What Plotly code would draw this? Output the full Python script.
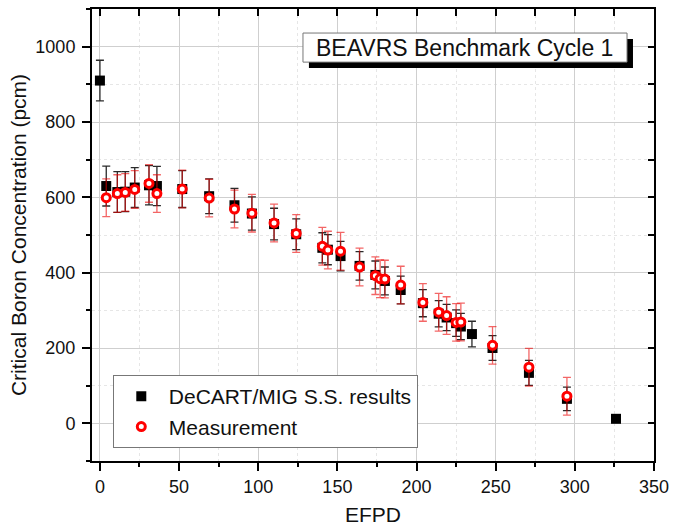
import plotly.graph_objects as go

# DeCART/MIG S.S. results
calc_efpd = [0, 4, 11, 16, 22, 31, 36, 52, 69, 85, 96, 110, 124, 140.5, 144, 152,
             164, 174, 180, 190, 204, 214, 219, 225, 228, 235, 248, 271, 295, 326]
calc_cbc = [910, 630, 614, 615, 626, 632, 630, 622, 603, 579, 557, 529, 502, 466, 461, 444,
            418, 394, 378, 354, 319, 291, 281, 266, 257, 237, 200, 134, 65, 12]
calc_err = [54, 53, 54, 53, 53, 52, 52, 49, 46, 45, 44, 42, 41, 40, 40, 39,
            38, 37, 37, 37, 36, 35, 35, 35, 35, 34, 33, 33, 31, 0]

# Measurement
meas_efpd = [4, 11, 16, 22, 31, 36, 52, 69, 85, 96, 110, 124, 140.5, 144, 152,
             164, 174, 177, 180, 190, 204, 214, 219, 225, 228, 248, 271, 295]
meas_cbc = [599, 610, 613, 621, 637, 610, 622, 598, 569, 558, 532, 504, 470, 460, 457,
            415, 392, 384, 383, 367, 321, 295, 286, 268, 269, 207, 149, 72]
meas_err = [50] * len(meas_cbc)

x_range = [-5, 350]
y_range = [-100, 1100]
title_text = "BEAVRS Benchmark Cycle 1"

FONT = "Liberation Sans, Arial, sans-serif"

fig = go.Figure()
fig.add_trace(go.Scatter(
    x=calc_efpd, y=calc_cbc, mode="markers", name="DeCART/MIG S.S. results",
    marker=dict(symbol="square", size=10, color="black"),
    error_y=dict(type="data", array=calc_err, color="#2a2a2a", thickness=1.3, width=4),
))
fig.add_trace(go.Scatter(
    x=meas_efpd, y=meas_cbc, mode="markers", name="Measurement",
    marker=dict(symbol="circle", size=8, color="white", line=dict(color="#ff0000", width=3)),
    error_y=dict(type="data", array=meas_err, color="rgba(235,0,0,0.6)", thickness=1.3, width=4),
))
# helper trace for mirrored top/right axes with inward ticks
fig.add_trace(go.Scatter(x=[None], y=[None], xaxis="x2", yaxis="y2",
                         showlegend=False, hoverinfo="skip"))

grid_major = "#cfcfcf"
grid_minor = "#e6e6e6"

fig.update_layout(
    width=673, height=532,
    margin=dict(l=92, r=19, t=9, b=71, autoexpand=False),
    paper_bgcolor="white", plot_bgcolor="white",
    font=dict(family=FONT, color="#111111", size=18),
    xaxis=dict(
        range=x_range, dtick=50, tick0=0, automargin=False,
        showline=True, linecolor="black", linewidth=2,
        ticks="outside", ticklen=8, tickwidth=2, tickcolor="black",
        showgrid=True, gridcolor=grid_major, gridwidth=1.3,
        minor=dict(dtick=25, tick0=0, ticks="outside", ticklen=4, tickwidth=1.5, tickcolor="black",
                   showgrid=True, gridcolor=grid_minor, griddash="dot", gridwidth=1),
        zeroline=False,
        tickfont=dict(size=18),
        title=dict(text="EFPD", font=dict(size=21), standoff=12),
    ),
    yaxis=dict(
        range=y_range, dtick=200, tick0=0, automargin=False,
        showline=True, linecolor="black", linewidth=2,
        ticks="outside", ticklen=8, tickwidth=2, tickcolor="black",
        showgrid=True, gridcolor=grid_major, gridwidth=1.3,
        minor=dict(dtick=100, tick0=0, ticks="outside", ticklen=4, tickwidth=1.5, tickcolor="black",
                   showgrid=True, gridcolor=grid_minor, griddash="dot", gridwidth=1),
        zeroline=False,
        tickfont=dict(size=18),
        ticklabelstandoff=3,
        title=dict(text="Critical Boron Concentration (pcm)", font=dict(size=21), standoff=3),
    ),
    xaxis2=dict(
        range=x_range, overlaying="x", side="top", anchor="y2", automargin=False,
        dtick=25, tick0=0, ticks="inside", ticklen=7, tickwidth=2, tickcolor="black",
        showline=True, linecolor="black", linewidth=2,
        showticklabels=False, showgrid=False, zeroline=False,
    ),
    yaxis2=dict(
        range=y_range, overlaying="y", side="right", anchor="x2", automargin=False,
        dtick=100, tick0=0, ticks="inside", ticklen=6, tickwidth=2, tickcolor="black",
        showline=True, linecolor="black", linewidth=2,
        showticklabels=False, showgrid=False, zeroline=False,
    ),
    legend=dict(
        x=0.037, y=0.19, xanchor="left", yanchor="top",
        bgcolor="white", bordercolor="#777777", borderwidth=1,
        font=dict(size=21, family=FONT), tracegroupgap=0, itemwidth=45,
    ),
    showlegend=True,
)

# Title box with drop shadow
fig.add_shape(type="rect", xref="paper", yref="paper",
              x0=0.386, x1=0.9626, y0=0.8692, y1=0.9335,
              fillcolor="black", line=dict(width=0), layer="above")
fig.add_shape(type="rect", xref="paper", yref="paper",
              x0=0.3754, x1=0.952, y0=0.8825, y1=0.9468,
              fillcolor="white", line=dict(color="#777777", width=1), layer="above")
fig.add_annotation(text=title_text, xref="paper", yref="paper",
                   x=0.6637, y=0.9146, xanchor="center", yanchor="middle",
                   showarrow=False, font=dict(size=23, family=FONT, color="#111111"))

fig.write_html("out.html",
               config={"displayModeBar": False},
               post_script="document.body.style.margin='0';document.body.style.padding='0';document.body.style.overflow='hidden';")
